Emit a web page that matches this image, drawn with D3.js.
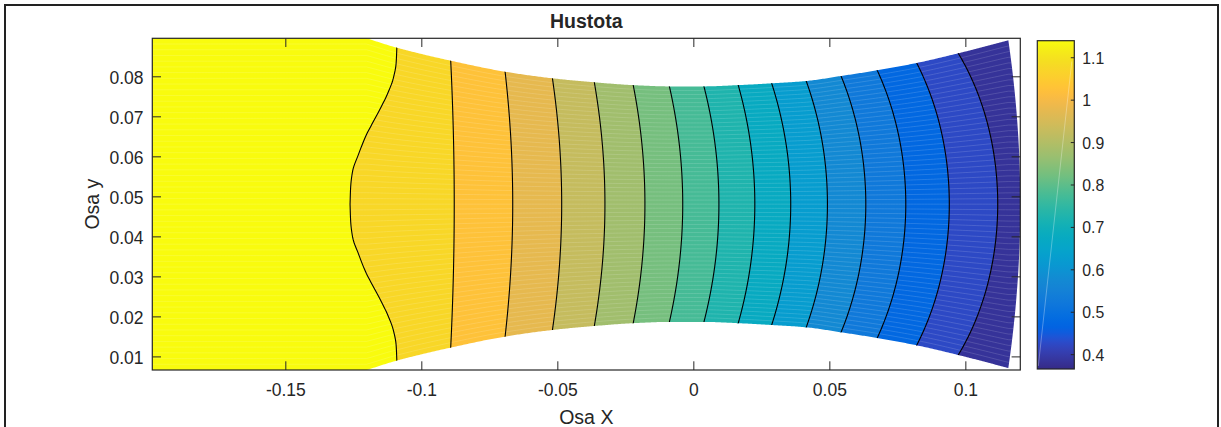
<!DOCTYPE html>
<html>
<head>
<meta charset="utf-8">
<script src="https://cdn.jsdelivr.net/npm/d3@7"></script>
<style>
  body { margin: 0; background: #fff; }
  svg { display: block; }
  text { font-family: "Liberation Sans", Arial, Helvetica, sans-serif; fill: #262626; }
</style>
</head>
<body>
<svg id="chart" width="1221" height="427"></svg>
<script>
// ---- data -------------------------------------------------------------
// nozzle upper wall (x, y); the lower wall is its mirror about yCenter
const wallX = [-0.1989, -0.1201, -0.1090, -0.0892, -0.0692, -0.0518, -0.0364, -0.0221, -0.0088,
               0.0039, 0.0165, 0.0288, 0.0415, 0.0543, 0.0676, 0.0821, 0.0974, 0.1158];
const wallY = [0.0895, 0.0895, 0.08715, 0.0839, 0.08115, 0.0795, 0.0785, 0.0778, 0.07748,
               0.07748, 0.0778, 0.07825, 0.07883, 0.08008, 0.0815, 0.08333, 0.08575, 0.0890];
const yCenter = 0.04805;
const exitCenterX = 0.1202;

// density range shown by the colour bar
const rhoMin = 0.365, rhoMax = 1.139;

// contour levels: where each crosses the axis of symmetry and where it meets the wall
const levels       = [1.1, 1.05, 1.0, 0.95, 0.9, 0.85, 0.8, 0.75, 0.7, 0.65, 0.6, 0.55, 0.5, 0.45, 0.4];
const levelCenterX = [-0.1262, -0.0879, -0.0664, -0.0484, -0.0325, -0.0178, -0.0039, 0.0094,
                      0.0226, 0.0358, 0.0493, 0.0634, 0.0781, 0.0941, 0.1119];
const levelWallX   = [-0.1090, -0.0892, -0.0692, -0.0518, -0.0364, -0.0221, -0.0088, 0.0039,
                      0.0165, 0.0288, 0.0415, 0.0543, 0.0676, 0.0821, 0.0974];
// the 1.1 level bulges upstream on the axis; its profile over the relative height s
const firstLineS = [0, 0.1, 0.2, 0.3, 0.4, 0.5, 0.6, 0.7, 0.8, 0.9, 1];
const firstLineX = [-0.1262, -0.12599, -0.12525, -0.1231, -0.1207, -0.11777, -0.11485,
                    -0.11227, -0.11029, -0.10926, -0.1090];

// ticks
const xTicks  = [-0.15, -0.1, -0.05, 0, 0.05, 0.1];
const yTicks  = [0.01, 0.02, 0.03, 0.04, 0.05, 0.06, 0.07, 0.08];
const cbTicks = [0.4, 0.5, 0.6, 0.7, 0.8, 0.9, 1, 1.1];

// parula colour map
const parula = [
 [0.2081,0.1663,0.5292],[0.2116,0.1898,0.5777],[0.2123,0.2138,0.6270],[0.2081,0.2386,0.6771],
 [0.1959,0.2645,0.7279],[0.1707,0.2919,0.7792],[0.1253,0.3242,0.8303],[0.0591,0.3598,0.8683],
 [0.0117,0.3875,0.8820],[0.0060,0.4086,0.8828],[0.0165,0.4266,0.8786],[0.0329,0.4430,0.8720],
 [0.0498,0.4586,0.8641],[0.0629,0.4737,0.8554],[0.0723,0.4887,0.8467],[0.0779,0.5040,0.8384],
 [0.0793,0.5200,0.8312],[0.0749,0.5375,0.8263],[0.0641,0.5570,0.8240],[0.0488,0.5772,0.8228],
 [0.0343,0.5966,0.8199],[0.0265,0.6137,0.8135],[0.0239,0.6287,0.8038],[0.0231,0.6418,0.7913],
 [0.0228,0.6535,0.7768],[0.0267,0.6642,0.7607],[0.0384,0.6743,0.7436],[0.0590,0.6838,0.7254],
 [0.0843,0.6928,0.7062],[0.1133,0.7015,0.6859],[0.1453,0.7098,0.6646],[0.1801,0.7177,0.6424],
 [0.2178,0.7250,0.6193],[0.2586,0.7317,0.5954],[0.3022,0.7376,0.5712],[0.3482,0.7424,0.5473],
 [0.3953,0.7459,0.5244],[0.4420,0.7481,0.5033],[0.4871,0.7491,0.4840],[0.5300,0.7491,0.4661],
 [0.5709,0.7485,0.4494],[0.6099,0.7473,0.4337],[0.6473,0.7456,0.4188],[0.6834,0.7435,0.4044],
 [0.7184,0.7411,0.3905],[0.7525,0.7384,0.3768],[0.7858,0.7356,0.3633],[0.8185,0.7327,0.3498],
 [0.8507,0.7299,0.3360],[0.8824,0.7274,0.3217],[0.9139,0.7258,0.3063],[0.9450,0.7261,0.2886],
 [0.9739,0.7314,0.2666],[0.9938,0.7455,0.2403],[0.9990,0.7653,0.2164],[0.9955,0.7861,0.1967],
 [0.9880,0.8066,0.1794],[0.9789,0.8271,0.1633],[0.9697,0.8481,0.1475],[0.9626,0.8705,0.1309],
 [0.9589,0.8949,0.1132],[0.9598,0.9218,0.0948],[0.9661,0.9514,0.0755],[0.9763,0.9831,0.0538]
];

// ---- helpers ----------------------------------------------------------
const parulaColors = parula.map(c => d3.rgb(c[0] * 255, c[1] * 255, c[2] * 255).formatHex());
const cmap = d3.piecewise(d3.interpolateRgb, parulaColors);
const colorOf = v => cmap(Math.max(0, Math.min(1, (v - rhoMin) / (rhoMax - rhoMin))));

// monotone cubic (Fritsch-Carlson) interpolation; flat segments stay flat
function monotone(xs, ys) {
  const n = xs.length, d = [], m = new Array(n);
  for (let i = 0; i < n - 1; i++) d[i] = (ys[i + 1] - ys[i]) / (xs[i + 1] - xs[i]);
  m[0] = d[0]; m[n - 1] = d[n - 2];
  for (let i = 1; i < n - 1; i++) {
    if (d[i - 1] === 0 && i === 1) m[i] = d[i];
    else if (d[i - 1] * d[i] <= 0) m[i] = 0;
    else m[i] = 2 / (1 / d[i - 1] + 1 / d[i]);
  }
  return xv => {
    if (xv <= xs[0]) return ys[0];
    if (xv >= xs[n - 1]) return ys[n - 1];
    const i = Math.min(n - 2, d3.bisectRight(xs, xv) - 1);
    if (i === 0 && d[0] === 0) return ys[0];
    const h = xs[i + 1] - xs[i], t = (xv - xs[i]) / h;
    const t2 = t * t, t3 = t2 * t;
    return (2 * t3 - 3 * t2 + 1) * ys[i] + (t3 - 2 * t2 + t) * h * m[i]
         + (-2 * t3 + 3 * t2) * ys[i + 1] + (t3 - t2) * h * m[i + 1];
  };
}
const half = monotone(wallX, wallY.map(v => v - yCenter));
const exitCornerX = wallX[wallX.length - 1];
const exitHalf = wallY[wallY.length - 1] - yCenter;
const firstProfile = monotone(firstLineS, firstLineX);

function contourX(i, s) {
  if (i === 0) return firstProfile(Math.min(1, Math.abs(s)));
  return levelCenterX[i] + (levelWallX[i] - levelCenterX[i]) * s * s;
}
function contourPts(i, sMax) {
  return d3.range(0, 161).map(k => {
    const s = -sMax + 2 * sMax * k / 160;
    const xv = contourX(i, s);
    return [xv, yCenter + s * half(xv)];
  });
}

// ---- layout -----------------------------------------------------------
const W = 1221, H = 427;
const plot = { left: 152.3, right: 1020.3, top: 38.3, bottom: 370 };
const svg = d3.select("#chart");
svg.append("rect").attr("width", W).attr("height", H).attr("fill", "#fff");

const x = d3.scaleLinear().domain([wallX[0], exitCenterX]).range([plot.left, plot.right]);
const y = d3.scaleLinear().domain([2 * yCenter - wallY[0], wallY[0]]).range([plot.bottom, plot.top]);
const line = d3.line().x(d => x(d[0])).y(d => y(d[1]));

// nozzle outline: upper wall, curved exit plane, lower wall
const nSamp = 600;
const upper = d3.range(nSamp + 1).map(k => {
  const xv = wallX[0] + (exitCornerX - wallX[0]) * k / nSamp;
  return [xv, yCenter + half(xv)];
});
const exitArc = d3.range(1, 60).map(k => {
  const s = 1 - 2 * k / 60;
  return [exitCenterX - (exitCenterX - exitCornerX) * s * s, yCenter + s * exitHalf];
});
const lower = upper.slice().reverse().map(p => [p[0], 2 * yCenter - p[1]]);
const nozzle = upper.concat(exitArc, lower);

const defs = svg.append("defs");
defs.append("clipPath").attr("id", "nozzle-clip")
  .append("path").attr("d", line(nozzle) + "Z");

const field = svg.append("g").attr("clip-path", "url(#nozzle-clip)");

// filled bands between consecutive contour levels
const bandValues = [rhoMax];
for (let i = 1; i < levels.length; i++) bandValues.push((levels[i - 1] + levels[i]) / 2);
bandValues.push((levels[levels.length - 1] + rhoMin) / 2);

bandValues.forEach((v, b) => {
  const leftPts = b === 0
    ? [[wallX[0] - 0.01, yCenter - 0.07], [wallX[0] - 0.01, yCenter + 0.07]]
    : contourPts(b - 1, 1.3);
  const rightPts = b === levels.length
    ? [[exitCenterX + 0.01, yCenter + 0.07], [exitCenterX + 0.01, yCenter - 0.07]]
    : contourPts(b, 1.3).reverse();
  const c = colorOf(v);
  field.append("path")
    .attr("d", line(leftPts.concat(rightPts)) + "Z")
    .attr("fill", c).attr("stroke", c).attr("stroke-width", 0.8);
});

// faint mesh lines running along the nozzle
const meshN = 58;
for (let k = 1; k < meshN; k++) {
  const s = -1 + 2 * k / meshN;
  const pts = d3.range(0, 301).map(j => {
    const xv = wallX[0] + (exitCenterX - wallX[0]) * j / 300;
    return [xv, yCenter + s * half(xv)];
  });
  field.append("path").attr("d", line(pts))
    .attr("fill", "none").attr("stroke", "#fff")
    .attr("stroke-opacity", 0.18).attr("stroke-width", 0.8);
}

// contour lines
levels.forEach((lv, i) => {
  field.append("path").attr("d", line(contourPts(i, 1.08)))
    .attr("fill", "none").attr("stroke", "#000").attr("stroke-width", 1.1);
});

// ---- axes -------------------------------------------------------------
const axisColor = "#262626";
const tickLen = 8.7;
function styleAxis(g, size) {
  g.select(".domain").remove();
  g.selectAll("line").attr("stroke", axisColor).attr("stroke-width", 1);
  g.selectAll("text").attr("font-size", size)
    .attr("font-family", '"Liberation Sans", Arial, sans-serif').attr("fill", axisColor);
}
const fmt = d => String(d);

svg.append("g").attr("transform", `translate(0,${plot.bottom})`)
  .call(d3.axisBottom(x).tickValues(xTicks).tickFormat(fmt).tickSizeInner(-tickLen).tickSizeOuter(0).tickPadding(14))
  .call(g => styleAxis(g, 17.5));
svg.append("g").attr("transform", `translate(0,${plot.top})`)
  .call(d3.axisTop(x).tickValues(xTicks).tickFormat("").tickSizeInner(-tickLen).tickSizeOuter(0))
  .call(g => styleAxis(g, 17.5));
svg.append("g").attr("transform", `translate(${plot.left},0)`)
  .call(d3.axisLeft(y).tickValues(yTicks).tickFormat(fmt).tickSizeInner(-tickLen).tickSizeOuter(0).tickPadding(8.8))
  .call(g => styleAxis(g, 17.5))
  .call(g => g.selectAll("text").attr("dy", "0.4em"));
svg.append("g").attr("transform", `translate(${plot.right},0)`)
  .call(d3.axisRight(y).tickValues(yTicks).tickFormat("").tickSizeInner(-tickLen).tickSizeOuter(0))
  .call(g => styleAxis(g, 17.5));

svg.append("rect")
  .attr("x", plot.left).attr("y", plot.top)
  .attr("width", plot.right - plot.left).attr("height", plot.bottom - plot.top)
  .attr("fill", "none").attr("stroke", axisColor).attr("stroke-width", 1.2);

// titles
svg.append("text").attr("x", (plot.left + plot.right) / 2).attr("y", 28)
  .attr("text-anchor", "middle").attr("font-size", 19.5).attr("font-weight", "bold")
  .attr("fill", "#000").text("Hustota");
svg.append("text").attr("x", (plot.left + plot.right) / 2).attr("y", 424)
  .attr("text-anchor", "middle").attr("font-size", 19.5).text("Osa X");
svg.append("text").attr("transform", `translate(99,${(plot.top + plot.bottom) / 2}) rotate(-90)`)
  .attr("text-anchor", "middle").attr("font-size", 19.5).text("Osa y");

// ---- colour bar -------------------------------------------------------
const cb = { left: 1037.3, right: 1074.3, top: 40.7, bottom: 369 };
const cbY = d3.scaleLinear().domain([rhoMin, rhoMax]).range([cb.bottom, cb.top]);
const grad = defs.append("linearGradient").attr("id", "cb-grad")
  .attr("x1", 0).attr("y1", 1).attr("x2", 0).attr("y2", 0);
parulaColors.forEach((c, i) => {
  grad.append("stop").attr("offset", i / (parulaColors.length - 1)).attr("stop-color", c);
});
svg.append("rect").attr("x", cb.left).attr("y", cb.top)
  .attr("width", cb.right - cb.left).attr("height", cb.bottom - cb.top)
  .attr("fill", "url(#cb-grad)");
svg.append("line")
  .attr("x1", cb.left + 1).attr("y1", cb.bottom - 3).attr("x2", cb.right - 2.5).attr("y2", cbY(1.09))
  .attr("stroke", "#fff").attr("stroke-opacity", 0.3).attr("stroke-width", 1);
svg.append("g").attr("transform", `translate(${cb.right},0)`)
  .call(d3.axisRight(cbY).tickValues(cbTicks).tickFormat(fmt).tickSizeInner(-3.5).tickSizeOuter(0).tickPadding(8))
  .call(g => styleAxis(g, 15.8))
  .call(g => g.selectAll("text").attr("dy", "0.38em"));
svg.append("rect").attr("x", cb.left).attr("y", cb.top)
  .attr("width", cb.right - cb.left).attr("height", cb.bottom - cb.top)
  .attr("fill", "none").attr("stroke", axisColor).attr("stroke-width", 1.2);

// ---- figure frame -----------------------------------------------------
svg.append("rect").attr("x", 5).attr("y", 5).attr("width", 1213).attr("height", 460)
  .attr("fill", "none").attr("stroke", "#222").attr("stroke-width", 2);
</script>
</body>
</html>
